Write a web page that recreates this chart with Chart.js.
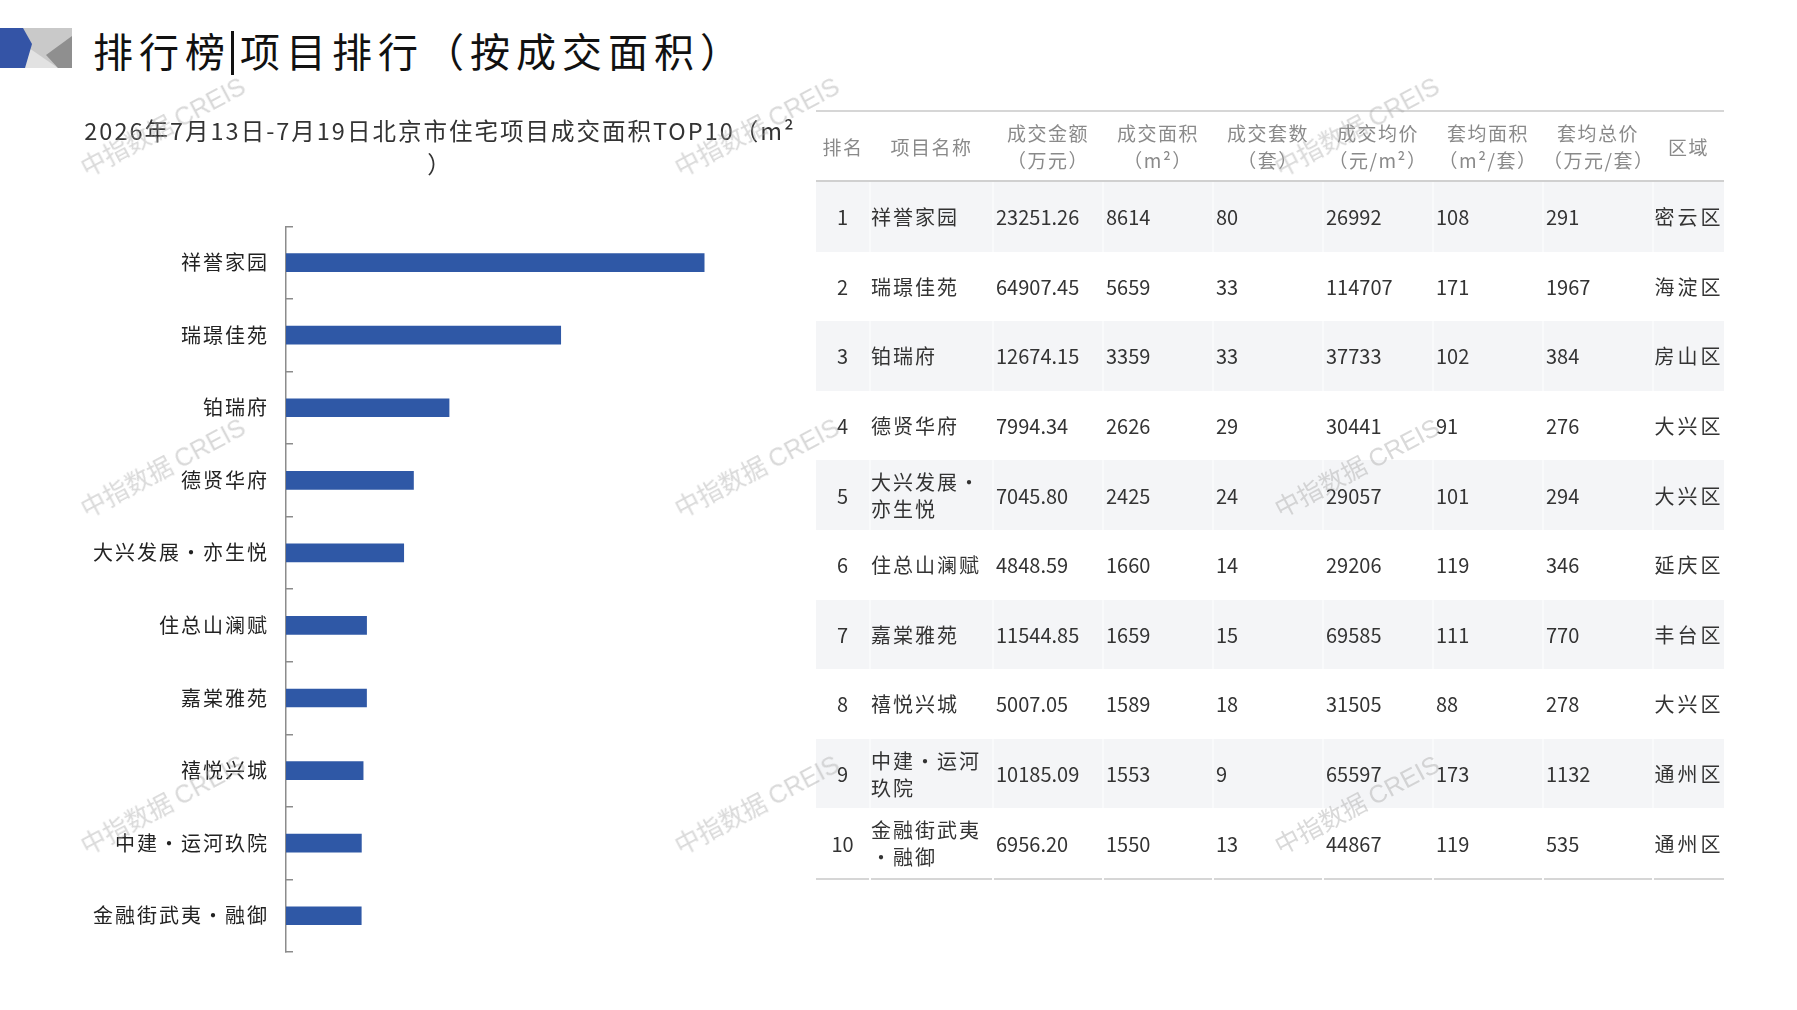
<!DOCTYPE html>
<html>
<head>
<meta charset="utf-8">
<script src="https://cdn.jsdelivr.net/npm/chart.js@4.4.0/dist/chart.umd.min.js"></script>
<style>
html,body{margin:0;padding:0;background:#fff;}
body{width:1797px;height:1010px;position:relative;overflow:hidden;font-family:"Noto Sans CJK SC","Noto Sans",sans-serif;}
#logo{position:absolute;left:0;top:28px;}
#title{position:absolute;left:93px;top:20px;font-size:40px;line-height:60px;letter-spacing:6px;color:#111;white-space:nowrap;}
#title .bar{display:inline-block;width:3px;height:44px;background:#111;vertical-align:-8px;margin:0 6px 0 0;}
#chartBox{position:absolute;left:60px;top:100px;width:760px;height:888px;}
#tbl{position:absolute;left:816px;top:110px;border-collapse:collapse;table-layout:fixed;width:908px;border-top:2px solid #d6d6d6;border-bottom:2px solid #d6d6d6;}
#tbl th{font-weight:normal;color:#8a8a8a;font-size:19px;line-height:27px;letter-spacing:1.5px;height:68px;padding:0;text-align:center;vertical-align:middle;white-space:nowrap;border-bottom:2px solid #d0d0d0;}
#tbl td{font-size:20px;color:#333;line-height:27px;height:69.6px;padding:0 0 0 2px;vertical-align:middle;text-align:left;}
#tbl tr.odd td{background:#f4f5f7;}
#tbl tr.odd td+td{border-left:2px solid #f9fafb;}
#tbl tr.even td+td{border-left:2px solid #fff;}
#tbl td.rk{text-align:center;padding:0;}
#tbl td.nm{letter-spacing:2px;padding:0 8px 0 0;}
#tbl td.ds{text-align:center;padding:0;letter-spacing:3px;}
.wm{position:absolute;transform:translate(-50%,-50%) rotate(-28deg);font-size:25px;color:rgba(165,165,165,0.42);white-space:nowrap;pointer-events:none;font-family:"Noto Sans CJK SC","Liberation Sans",sans-serif;z-index:10;}
.wm span{font-family:"Liberation Sans",Arial,sans-serif;}
</style>
</head>
<body>
<svg id="logo" width="74" height="40" viewBox="0 0 74 40">
  <rect x="20" y="0" width="52" height="40" fill="#c9c9c9"/>
  <polygon points="29,20 58,40 24,40" fill="#e2e2e2"/>
  <polygon points="72,8 46,27 58,40 72,40" fill="#8f8f8f"/>
  <polygon points="0,0 23,0 32,16 25,40 0,40" fill="#3454a6"/>
</svg>
<div id="title">排行榜<span class="bar"></span>项目排行（按成交面积）</div>
<div id="chartBox"><canvas id="c" width="760" height="888"></canvas></div>
<table id="tbl"><colgroup>
<col style="width:54px"><col style="width:123px"><col style="width:110px"><col style="width:110px"><col style="width:110px"><col style="width:110px"><col style="width:110px"><col style="width:110px"><col style="width:71px">
</colgroup><thead><tr id="hdr"></tr></thead><tbody id="tb"></tbody></table>
<div id="wms"></div>
<script>
// ---- data ----
const chartTitle = ['2026年7月13日-7月19日北京市住宅项目成交面积TOP10（m²', '）'];
const projectNames = ['祥誉家园','瑞璟佳苑','铂瑞府','德贤华府','大兴发展•亦生悦','住总山澜赋','嘉棠雅苑','禧悦兴城','中建•运河玖院','金融街武夷•融御'];
const ranks = [1,2,3,4,5,6,7,8,9,10];
const dealAmounts = ['23251.26','64907.45','12674.15','7994.34','7045.80','4848.59','11544.85','5007.05','10185.09','6956.20'];
const dealAreas = [8614,5659,3359,2626,2425,1660,1659,1589,1553,1550];
const dealUnits = [80,33,33,29,24,14,15,18,9,13];
const avgPrices = [26992,114707,37733,30441,29057,29206,69585,31505,65597,44867];
const avgUnitAreas = [108,171,102,91,101,119,111,88,173,119];
const avgUnitTotals = [291,1967,384,276,294,346,770,278,1132,535];
const districts = ['密云区','海淀区','房山区','大兴区','大兴区','延庆区','丰台区','大兴区','通州区','通州区'];
const tableHeaders = [['排名'],['项目名称'],['成交金额','（万元）'],['成交面积','（m²）'],['成交套数','（套）'],['成交均价','（元/m²）'],['套均面积','（m²/套）'],['套均总价','（万元/套）'],['区域']];
const watermarkText = '中指数据';
const watermarkLatin = 'CREIS';

// ---- table ----
const hdr = document.getElementById('hdr');
tableHeaders.forEach(h => { const th = document.createElement('th'); th.innerHTML = h.join('<br>'); hdr.appendChild(th); });
const tb = document.getElementById('tb');
ranks.forEach((r, i) => {
  const tr = document.createElement('tr');
  tr.className = i % 2 === 0 ? 'odd' : 'even';
  const cells = [[r,'rk'],[projectNames[i],'nm'],[dealAmounts[i],''],[dealAreas[i],''],[dealUnits[i],''],[avgPrices[i],''],[avgUnitAreas[i],''],[avgUnitTotals[i],''],[districts[i],'ds']];
  cells.forEach(([v,c]) => { const td = document.createElement('td'); if (c) td.className = c; td.textContent = v; tr.appendChild(td); });
  tb.appendChild(tr);
});

// ---- watermarks ----
const wms = document.getElementById('wms');
[125, 466, 803].forEach(y => [162, 756, 1356].forEach(x => {
  const d = document.createElement('div'); d.className = 'wm';
  d.style.left = x + 'px'; d.style.top = y + 'px';
  d.innerHTML = watermarkText + ' <span>' + watermarkLatin + '</span>';
  wms.appendChild(d);
}));

// ---- chart ----
const FONT = '"Noto Sans CJK SC","Noto Sans",sans-serif';
const spacingPlugin = { id: 'spacing', beforeDraw(chart) { chart.ctx.letterSpacing = '2px'; } };
new Chart(document.getElementById('c'), {
  type: 'bar',
  data: { labels: projectNames, datasets: [{ data: dealAreas, backgroundColor: '#2f58a6', borderWidth: 0, barThickness: 18 }] },
  options: {
    responsive: false, animation: false, indexAxis: 'y',
    layout: { padding: { left: 0, right: 0, top: 0, bottom: 14 } },
    plugins: {
      legend: { display: false }, tooltip: { enabled: false },
      title: { display: true, text: chartTitle, color: '#333', font: { family: FONT, size: 23.5, weight: 'normal', lineHeight: 1.39 }, padding: { top: 15, bottom: 46 } }
    },
    scales: {
      x: { display: false, min: 0, max: 11000 },
      y: {
        afterFit(s) { s.width = 226; },
        border: { display: true, color: '#8c8c8c', width: 1.5 },
        grid: { display: true, drawOnChartArea: false, drawTicks: true, tickLength: -7, color: '#8c8c8c', lineWidth: 1.5, offset: true },
        ticks: { padding: 24, color: '#222', font: { family: FONT, size: 20 } }
      }
    }
  },
  plugins: [spacingPlugin]
});
</script>
</body>
</html>
